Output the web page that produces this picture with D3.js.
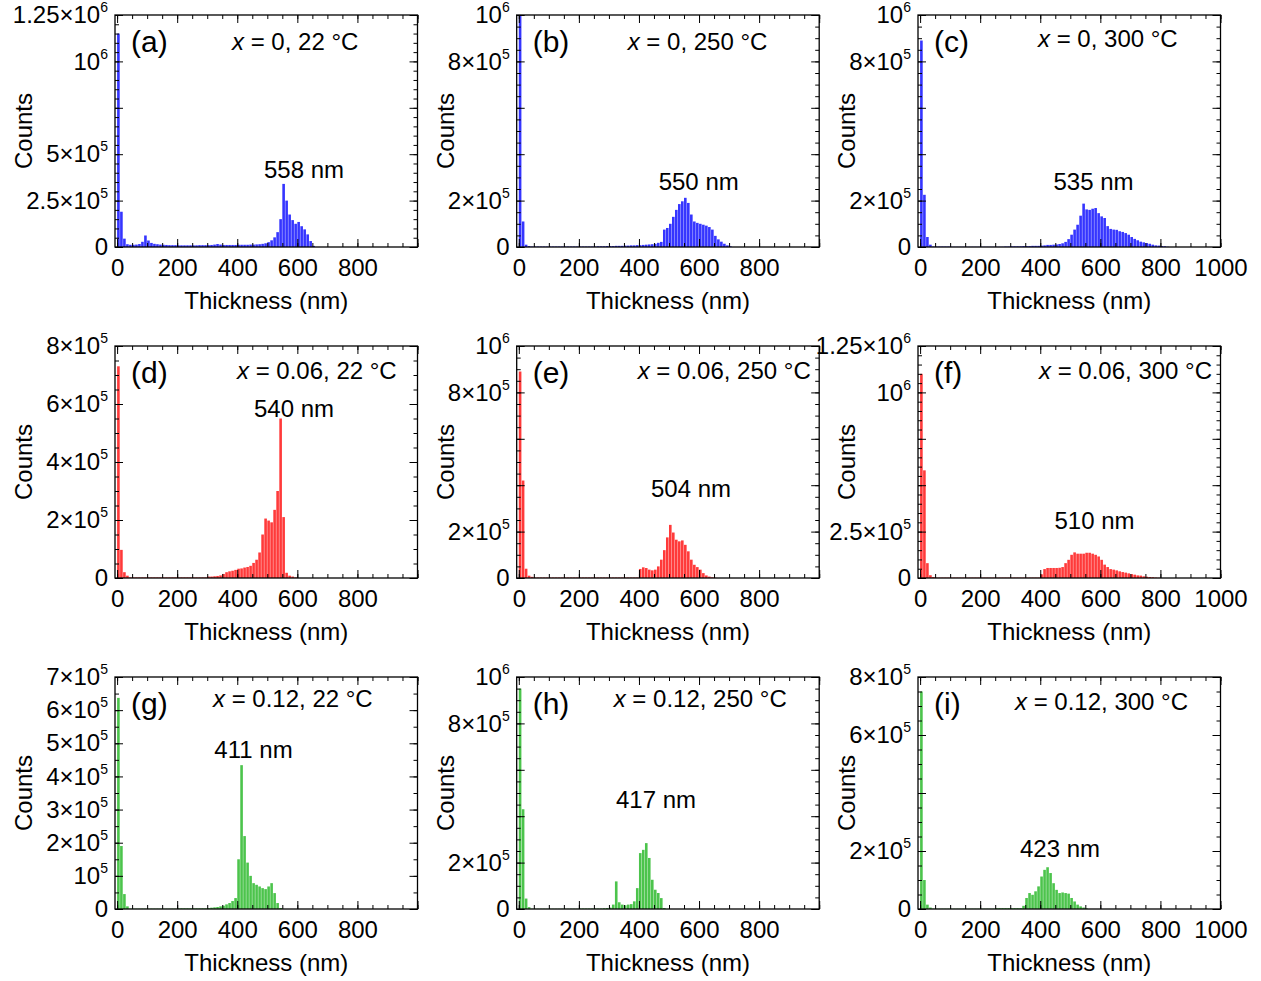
<!DOCTYPE html>
<html>
<head>
<meta charset="utf-8">
<script src="https://cdn.jsdelivr.net/npm/d3@7"></script>
<style>
  body { margin: 0; background: #fff; }
  svg { display: block; font-family: "Liberation Sans", Arial, sans-serif; }
  text { white-space: pre; }
</style>
</head>
<body>
<div id="chart"></div>
<script>
// histogram counts, in thousands, one value per 10 nm bin starting at 0 nm
const binWidth = 10;

const countsA = [1150, 190, 45, 15, 12, 12, 13, 16, 28, 62, 35, 22, 17, 15, 13, 12, 11, 10, 10, 10,
  9, 9, 9, 9, 9, 9, 9, 10, 10, 10, 10, 11, 13, 16, 13, 11, 11, 11, 11, 11,
  12, 12, 12, 12, 13, 13, 14, 15, 17, 20, 26, 36, 52, 80, 150, 340, 250, 175, 145, 125,
  135, 112, 95, 68, 32, 6];
const countsB = [1100, 110, 10, 4, 2, 2, 2, 2, 2, 2, 2, 2, 2, 2, 2, 2, 2, 2, 2, 2,
  2, 2, 2, 2, 2, 2, 3, 3, 3, 4, 4, 4, 5, 5, 5, 6, 6, 7, 7, 8,
  8, 9, 10, 11, 12, 14, 18, 22, 75, 82, 100, 130, 160, 185, 197, 212, 190, 140, 110, 104,
  100, 96, 92, 86, 75, 48, 33, 23, 14, 7, 3];
const countsC = [890, 225, 43, 10, 2, 2, 2, 2, 2, 2, 1, 1, 1, 1, 1, 1, 1, 1, 1, 1,
  1, 1, 1, 1, 1, 1, 1, 1, 2, 2, 3, 3, 3, 3, 4, 4, 4, 5, 5, 5,
  6, 7, 9, 9, 10, 11, 13, 16, 22, 34, 53, 75, 96, 135, 187, 162, 160, 165, 168, 146,
  132, 125, 90, 78, 75, 74, 68, 65, 60, 53, 43, 35, 29, 23, 20, 17, 14, 10, 7, 6,
  4, 3, 1];
const countsD = [730, 97, 20, 8, 2, 2, 2, 2, 2, 2, 2, 2, 2, 2, 2, 2, 2, 2, 2, 2,
  2, 2, 2, 2, 2, 2, 2, 2, 2, 2, 5, 5, 6, 7, 9, 14, 20, 23, 25, 28,
  32, 33, 36, 38, 42, 52, 63, 88, 150, 205, 198, 192, 235, 300, 550, 210, 18, 8, 5, 2];
const countsE = [890, 420, 40, 10, 5, 2, 2, 2, 2, 2, 2, 2, 2, 2, 2, 2, 2, 2, 2, 2,
  2, 2, 2, 2, 2, 2, 2, 2, 2, 2, 2, 2, 2, 2, 2, 2, 2, 2, 2, 2,
  39, 46, 43, 36, 33, 36, 50, 79, 120, 175, 229, 196, 165, 158, 162, 143, 115, 79, 57, 47,
  36, 21, 11, 6, 3, 1];
const countsF = [1100, 580, 80, 15, 5, 2, 2, 2, 2, 2, 2, 2, 2, 2, 2, 2, 2, 2, 2, 2,
  2, 2, 2, 2, 2, 2, 2, 2, 2, 2, 2, 2, 2, 2, 2, 2, 2, 2, 2, 2,
  20, 48, 54, 54, 54, 54, 55, 59, 80, 98, 125, 138, 131, 131, 131, 136, 136, 131, 125, 116,
  98, 72, 59, 48, 45, 41, 36, 32, 29, 25, 21, 18, 14, 13, 9, 7, 5, 4, 2, 1];
const countsG = [637, 190, 45, 8, 1, 1, 1, 1, 1, 1, 1, 1, 1, 1, 1, 1, 1, 1, 1, 1,
  2, 2, 2, 2, 2, 2, 2, 2, 2, 2, 3, 4, 5, 6, 8, 10, 14, 18, 24, 33,
  150, 434, 220, 140, 100, 78, 73, 68, 63, 60, 68, 78, 48, 18, 3];
const countsH = [950, 430, 45, 8, 1, 1, 1, 1, 1, 1, 1, 1, 1, 1, 1, 1, 1, 1, 1, 1,
  2, 2, 2, 2, 2, 2, 2, 2, 3, 4, 6, 19, 119, 29, 19, 16, 19, 21, 33, 90,
  241, 255, 284, 220, 126, 83, 69, 47, 4];
const countsI = [750, 100, 15, 5, 1, 1, 1, 1, 1, 1, 1, 1, 1, 1, 1, 1, 1, 1, 1, 1,
  1, 1, 1, 1, 1, 3, 3, 3, 3, 3, 3, 3, 3, 3, 11, 38, 55, 49, 61, 78,
  112, 135, 144, 124, 89, 66, 55, 57, 55, 53, 38, 26, 15, 9, 5, 2];

// y tick labels per panel (value, label; "^" marks the exponent)
const yLabelsA = [[0, '0'], [2.5e5, '2.5×10^5'], [5e5, '5×10^5'], [1e6, '10^6'], [1.25e6, '1.25×10^6']];
const yLabels1e6 = [[0, '0'], [2e5, '2×10^5'], [8e5, '8×10^5'], [1e6, '10^6']];
const yLabelsD = [[0, '0'], [2e5, '2×10^5'], [4e5, '4×10^5'], [6e5, '6×10^5'], [8e5, '8×10^5']];
const yLabelsF = [[0, '0'], [2.5e5, '2.5×10^5'], [1e6, '10^6'], [1.25e6, '1.25×10^6']];
const yLabelsG = [[0, '0'], [1e5, '10^5'], [2e5, '2×10^5'], [3e5, '3×10^5'], [4e5, '4×10^5'],
  [5e5, '5×10^5'], [6e5, '6×10^5'], [7e5, '7×10^5']];
const yLabelsI = [[0, '0'], [2e5, '2×10^5'], [6e5, '6×10^5'], [8e5, '8×10^5']];

const compositions = ['0', '0.06', '0.12'];
const temperatures = ['22', '250', '300'];
const letters = ['a', 'b', 'c', 'd', 'e', 'f', 'g', 'h', 'i'];
const peakLabels = ['558 nm', '550 nm', '535 nm', '540 nm', '504 nm', '510 nm', '411 nm', '417 nm', '423 nm'];
const rowColors = ['#3535ff', '#ff3a3a', '#4cc44c'];

const panels = [
  {counts: countsA, yMax: 1.25e6, yStep: 2.5e5, yLabels: yLabelsA},
  {counts: countsB, yMax: 1e6, yStep: 2e5, yLabels: yLabels1e6},
  {counts: countsC, yMax: 1e6, yStep: 2e5, yLabels: yLabels1e6},
  {counts: countsD, yMax: 8e5, yStep: 2e5, yLabels: yLabelsD},
  {counts: countsE, yMax: 1e6, yStep: 2e5, yLabels: yLabels1e6},
  {counts: countsF, yMax: 1.25e6, yStep: 2.5e5, yLabels: yLabelsF},
  {counts: countsG, yMax: 7e5, yStep: 1e5, yLabels: yLabelsG},
  {counts: countsH, yMax: 1e6, yStep: 2e5, yLabels: yLabels1e6},
  {counts: countsI, yMax: 8e5, yStep: 2e5, yLabels: yLabelsI},
];

// layout
const width = 1261, height = 981;
const W = 302.5, H = 232;
const colX = [115, 516.7, 918];
const rowY = [15, 346, 677];
const countsOffset = [83, 63, 63];
const condPos = [[117, 35], [111, 35], [120, 32], [122, 33], [121, 33], [121, 33], [98, 30], [97, 30], [97, 33]];
const peakPos = [[189, 163], [182, 175], [175.5, 175], [179, 71], [174.3, 150.7], [176.5, 183.3],
  [138.5, 81.3], [139.3, 130.7], [142, 179.7]];

const svg = d3.select('#chart').append('svg')
  .attr('width', width).attr('height', height)
  .attr('viewBox', `0 0 ${width} ${height}`);

svg.append('defs').append('clipPath').attr('id', 'plotclip')
  .append('rect').attr('width', W).attr('height', H);

const x = d3.scaleLinear().domain([-7, 1000]).range([0, W]);
const xMinor = d3.range(0, 1001, 50);
const xMajor = d3.range(0, 1001, 200);

const styleAxis = g => {
  g.select('.domain').remove();
  g.attr('font-family', null).attr('font-size', 24);
  g.selectAll('.tick line').attr('stroke', '#000').attr('stroke-width', 1);
  g.selectAll('.tick text').attr('fill', '#000');
};

panels.forEach((p, i) => {
  const col = i % 3, row = Math.floor(i / 3);
  const g = svg.append('g').attr('transform', `translate(${colX[col]},${rowY[row]})`);
  const y = d3.scaleLinear().domain([0, p.yMax]).range([H, 0]);
  const yMinor = d3.range(0, p.yMax + 1, 5e4);
  const yMajor = d3.range(0, p.yMax + 1, p.yStep);
  const labelMap = new Map(p.yLabels);

  const bins = p.counts.map((c, k) => ({x0: k * binWidth, x1: (k + 1) * binWidth, n: c * 1000}));
  g.append('g').attr('clip-path', 'url(#plotclip)')
    .selectAll('rect').data(bins).join('rect')
    .attr('x', d => x(d.x0))
    .attr('width', d => Math.max(0.5, x(d.x1) - x(d.x0) - 0.4))
    .attr('y', d => y(d.n))
    .attr('height', d => H - y(d.n))
    .attr('fill', rowColors[row]);

  // inward ticks on all four sides
  g.append('g').call(d3.axisLeft(y).tickValues(yMinor).tickSize(-4).tickFormat('')).call(styleAxis);
  g.append('g').call(d3.axisLeft(y).tickValues(yMajor).tickSize(-8).tickPadding(7)
      .tickFormat(v => labelMap.get(v) || ''))
    .call(styleAxis)
    .call(a => a.selectAll('.tick text').each(function () {
      const s = this.textContent;
      const t = d3.select(this).text(null);
      const [base, exp] = s.split('^');
      t.append('tspan').text(base);
      if (exp) t.append('tspan').attr('dy', -11).attr('font-size', 14).text(exp);
    }));
  g.append('g').attr('transform', `translate(${W},0)`)
    .call(d3.axisRight(y).tickValues(yMinor).tickSize(-4).tickFormat('')).call(styleAxis);
  g.append('g').attr('transform', `translate(${W},0)`)
    .call(d3.axisRight(y).tickValues(yMajor).tickSize(-8).tickFormat('')).call(styleAxis);

  const xLabelMax = col === 2 ? 1000 : 800;
  g.append('g').attr('transform', `translate(0,${H})`)
    .call(d3.axisBottom(x).tickValues(xMinor).tickSize(-4).tickFormat('')).call(styleAxis);
  g.append('g').attr('transform', `translate(0,${H})`)
    .call(d3.axisBottom(x).tickValues(xMajor).tickSize(-8).tickPadding(12)
      .tickFormat(v => v <= xLabelMax ? String(v) : ''))
    .call(styleAxis);
  g.append('g')
    .call(d3.axisTop(x).tickValues(xMinor).tickSize(-4).tickFormat('')).call(styleAxis);
  g.append('g')
    .call(d3.axisTop(x).tickValues(xMajor).tickSize(-8).tickFormat('')).call(styleAxis);

  g.append('rect').attr('width', W).attr('height', H)
    .attr('fill', 'none').attr('stroke', '#000').attr('stroke-width', 1.3);

  // axis titles
  g.append('text').attr('x', W / 2).attr('y', H + 62)
    .attr('text-anchor', 'middle').attr('font-size', 24).text('Thickness (nm)');
  g.append('text')
    .attr('transform', `translate(${-countsOffset[col]},${H / 2}) rotate(-90)`)
    .attr('text-anchor', 'middle').attr('font-size', 24).text('Counts');

  // annotations
  g.append('text').attr('x', 16).attr('y', 37).attr('font-size', 30).text(`(${letters[i]})`);
  const cond = g.append('text').attr('x', condPos[i][0]).attr('y', condPos[i][1]).attr('font-size', 24);
  cond.append('tspan').attr('font-style', 'italic').text('x');
  cond.append('tspan').text(` = ${compositions[row]}, ${temperatures[col]} °C`);
  g.append('text').attr('x', peakPos[i][0]).attr('y', peakPos[i][1])
    .attr('text-anchor', 'middle').attr('font-size', 24).text(peakLabels[i]);
});
</script>
</body>
</html>
